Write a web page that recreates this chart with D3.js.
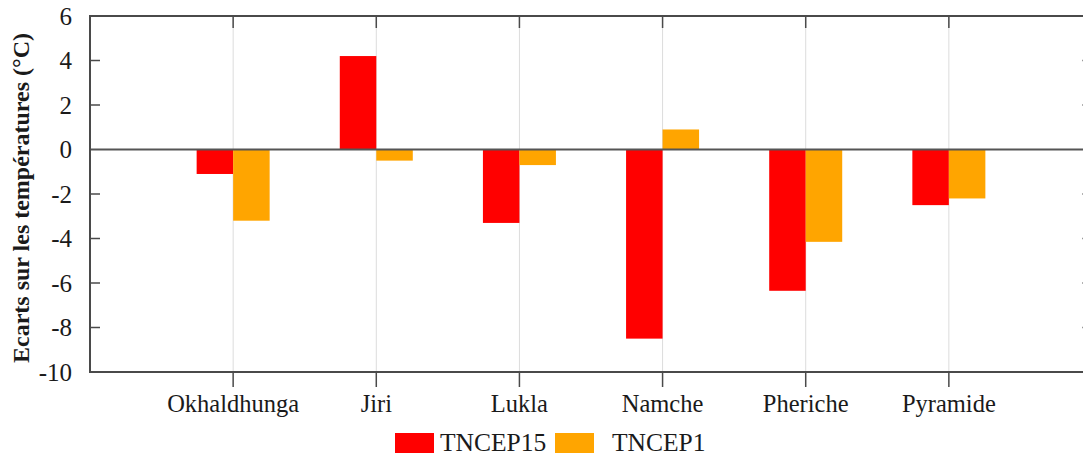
<!DOCTYPE html>
<html>
<head>
<meta charset="utf-8">
<script src="https://cdn.jsdelivr.net/npm/d3@7"></script>
<style>
  html, body { margin: 0; padding: 0; background: #fff; }
  svg { display: block; }
  text { font-family: "Liberation Serif", "Times New Roman", serif; fill: #1a1a1a; }
</style>
</head>
<body>
<svg id="chart" width="1083" height="457"></svg>
<script>
// Stations and temperature deviations (°C) for the two runs
const stations = ["Okhaldhunga", "Jiri", "Lukla", "Namche", "Pheriche", "Pyramide"];
const tncep15 = [-1.1, 4.2, -3.3, -8.5, -6.35, -2.5];
const tncep1 = [-3.2, -0.5, -0.7, 0.9, -4.15, -2.2];
const seriesNames = ["TNCEP15", "TNCEP1"];
const seriesColors = ["#ff0000", "#ffa500"];
const yTicks = [-10, -8, -6, -4, -2, 0, 2, 4, 6];

const svg = d3.select("#chart");
const plotL = 90, plotR = 1092, plotT = 16, plotB = 372;

const x = d3.scaleLinear().domain([-1, stations.length]).range([plotL, plotR]);
const y = d3.scaleLinear().domain([-10, 6]).range([plotB, plotT]);
const barW = 0.255; // in category units

// vertical grid at each station
svg.append("g").selectAll("line").data(stations).join("line")
  .attr("x1", (d, i) => x(i)).attr("x2", (d, i) => x(i))
  .attr("y1", plotT).attr("y2", plotB)
  .attr("stroke", "#dcdcdc").attr("stroke-width", 1);

// bars
const series = [tncep15, tncep1];
series.forEach((vals, s) => {
  svg.append("g").selectAll("rect").data(vals).join("rect")
    .attr("x", (d, i) => x(s === 0 ? i - barW : i))
    .attr("width", x(barW) - x(0))
    .attr("y", d => y(Math.max(0, d)))
    .attr("height", d => Math.abs(y(d) - y(0)))
    .attr("fill", seriesColors[s]);
});

// zero line
svg.append("line")
  .attr("x1", plotL).attr("x2", plotR)
  .attr("y1", y(0)).attr("y2", y(0))
  .attr("stroke", "#555").attr("stroke-width", 2);

// y axis ticks (inward, both sides)
const axisColor = "#4a4a4a";
const yt = svg.append("g");
yTicks.filter(t => t !== -10 && t !== 6 && t !== 0).forEach(t => {
  yt.append("line").attr("x1", plotL).attr("x2", plotL + 10)
    .attr("y1", y(t)).attr("y2", y(t)).attr("stroke", axisColor).attr("stroke-width", 1.5);
  yt.append("line").attr("x1", plotR - 10).attr("x2", plotR)
    .attr("y1", y(t)).attr("y2", y(t)).attr("stroke", "#999").attr("stroke-width", 1.5);
});
yt.selectAll("text").data(yTicks).join("text")
  .attr("x", 72).attr("y", d => y(d))
  .attr("text-anchor", "end").attr("dominant-baseline", "central")
  .style("font-size", "25px")
  .text(d => d);

// x ticks: top inward, bottom outward
const xt = svg.append("g");
stations.forEach((s, i) => {
  xt.append("line").attr("x1", x(i)).attr("x2", x(i))
    .attr("y1", plotT).attr("y2", plotT + 12).attr("stroke", axisColor).attr("stroke-width", 1.5);
  xt.append("line").attr("x1", x(i)).attr("x2", x(i))
    .attr("y1", plotB).attr("y2", plotB + 15).attr("stroke", axisColor).attr("stroke-width", 1.5);
});
xt.selectAll("text").data(stations).join("text")
  .attr("x", (d, i) => x(i)).attr("y", 412)
  .attr("text-anchor", "middle")
  .style("font-size", "24.5px")
  .text(d => d);

// frame
svg.append("rect")
  .attr("x", plotL).attr("y", plotT)
  .attr("width", plotR - plotL).attr("height", plotB - plotT)
  .attr("fill", "none").attr("stroke", axisColor).attr("stroke-width", 2);

// y axis title
svg.append("text")
  .attr("transform", `translate(29,${(plotT + plotB) / 2 + 4}) rotate(-90)`)
  .attr("text-anchor", "middle")
  .style("font-size", "24px").style("font-weight", "bold")
  .text("Ecarts sur les températures (°C)");

// legend
const legendX = [395, 555];
const leg = svg.append("g");
seriesNames.forEach((name, i) => {
  leg.append("rect").attr("x", legendX[i]).attr("y", 433)
    .attr("width", 39).attr("height", 20).attr("fill", seriesColors[i]);
  leg.append("text").attr("x", legendX[i] + (i === 0 ? 45 : 57)).attr("y", 451)
    .style("font-size", "25.5px").text(name);
});
</script>
</body>
</html>
